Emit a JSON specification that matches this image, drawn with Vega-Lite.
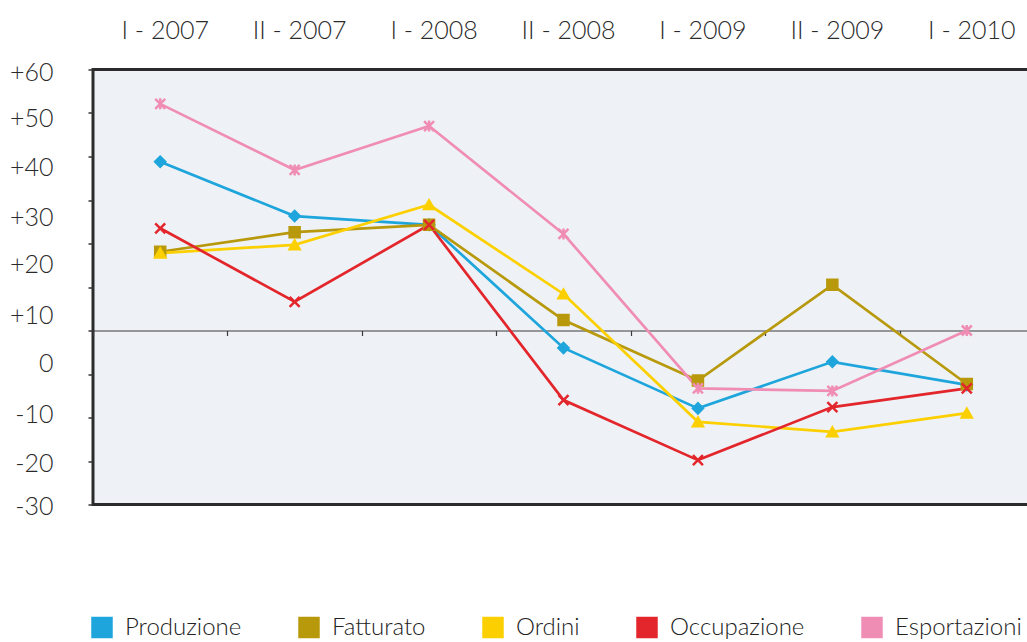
{
  "$schema": "https://vega.github.io/schema/vega-lite/v6.json",
  "width": 941,
  "height": 435,
  "autosize": {"type": "none"},
  "padding": {"left": 93, "top": 69.5, "right": -7, "bottom": 137.5},
  "background": "white",
  "config": {
    "view": {"fill": "#eef2f6", "stroke": "#2b2b2b", "strokeWidth": 3},
    "font": "Lato",
    "axis": {"labelFont": "Lato", "labelColor": "#2a2a2a", "grid": false, "title": null}
  },
  "data": {
    "values": [
      {"p": "I - 2007", "s": "Produzione", "v": 38.8},
      {"p": "II - 2007", "s": "Produzione", "v": 26.3},
      {"p": "I - 2008", "s": "Produzione", "v": 24.3},
      {"p": "II - 2008", "s": "Produzione", "v": -4.0},
      {"p": "I - 2009", "s": "Produzione", "v": -17.9},
      {"p": "II - 2009", "s": "Produzione", "v": -7.2},
      {"p": "I - 2010", "s": "Produzione", "v": -12.5},
      {"p": "I - 2007", "s": "Fatturato", "v": 18.1},
      {"p": "II - 2007", "s": "Fatturato", "v": 22.6},
      {"p": "I - 2008", "s": "Fatturato", "v": 24.3},
      {"p": "II - 2008", "s": "Fatturato", "v": 2.4},
      {"p": "I - 2009", "s": "Fatturato", "v": -11.5},
      {"p": "II - 2009", "s": "Fatturato", "v": 10.5},
      {"p": "I - 2010", "s": "Fatturato", "v": -12.3},
      {"p": "I - 2007", "s": "Ordini", "v": 17.8},
      {"p": "II - 2007", "s": "Ordini", "v": 19.7},
      {"p": "I - 2008", "s": "Ordini", "v": 28.9},
      {"p": "II - 2008", "s": "Ordini", "v": 8.4},
      {"p": "I - 2009", "s": "Ordini", "v": -21.0},
      {"p": "II - 2009", "s": "Ordini", "v": -23.3},
      {"p": "I - 2010", "s": "Ordini", "v": -19.0},
      {"p": "I - 2007", "s": "Occupazione", "v": 23.5},
      {"p": "II - 2007", "s": "Occupazione", "v": 6.6},
      {"p": "I - 2008", "s": "Occupazione", "v": 24.3},
      {"p": "II - 2008", "s": "Occupazione", "v": -16.0},
      {"p": "I - 2009", "s": "Occupazione", "v": -29.8},
      {"p": "II - 2009", "s": "Occupazione", "v": -17.6},
      {"p": "I - 2010", "s": "Occupazione", "v": -13.3},
      {"p": "I - 2007", "s": "Esportazioni", "v": 52.1},
      {"p": "II - 2007", "s": "Esportazioni", "v": 36.9},
      {"p": "I - 2008", "s": "Esportazioni", "v": 47.0},
      {"p": "II - 2008", "s": "Esportazioni", "v": 22.2},
      {"p": "I - 2009", "s": "Esportazioni", "v": -13.3},
      {"p": "II - 2009", "s": "Esportazioni", "v": -13.9},
      {"p": "I - 2010", "s": "Esportazioni", "v": 0.0}
    ]
  },
  "layer": [
    {
      "mark": {"type": "line", "strokeWidth": 2.7},
      "encoding": {
        "x": {
          "field": "p", "type": "nominal",
          "scale": {"type": "band", "domain": ["I - 2007", "II - 2007", "I - 2008", "II - 2008", "I - 2009", "II - 2009", "I - 2010"], "paddingInner": 0, "paddingOuter": 0},
          "axis": {"orient": "top", "title": null, "ticks": false, "tickSize": 0, "domain": false, "labelFontSize": 25, "labelFontWeight": 300, "labelPadding": 31.5, "labelBaseline": "alphabetic", "labelOffset": 5, "labelAngle": 0, "labelColor": "#2a2a2a"}
        },
        "y": {
          "field": "v", "type": "quantitative",
          "scale": {"domain": [-40, 60], "nice": false, "zero": false},
          "axis": {"orient": "left", "title": null, "values": [-40, -30, -20, -10, 0, 10, 20, 30, 40, 50, 60], "labels": false, "domain": false, "ticks": true, "tickSize": 5, "tickWidth": 1.5, "tickColor": "#333333", "grid": false}
        },
        "stroke": {
          "field": "s", "type": "nominal",
          "scale": {"range": ["#f08db5", "#b8990c", "#e3262b", "#fcd000", "#1ea5dc"]},
          "legend": null
        }
      }
    },
    {
      "mark": {"type": "point", "filled": true, "size": 100, "strokeWidth": 2.5, "opacity": 1},
      "encoding": {
        "x": {
          "field": "p", "type": "nominal",
          "scale": {"type": "band", "domain": ["I - 2007", "II - 2007", "I - 2008", "II - 2008", "I - 2009", "II - 2009", "I - 2010"], "paddingInner": 0, "paddingOuter": 0},
          "axis": {"orient": "bottom", "offset": -174, "title": null, "labels": false, "domain": true, "domainColor": "#3a3a3a", "domainWidth": 1.2, "ticks": true, "tickBand": "extent", "tickSize": 5, "tickColor": "#3a3a3a", "tickWidth": 1.2}
        },
        "y": {
          "field": "v", "type": "quantitative",
          "scale": {"domain": [-40, 60], "nice": false, "zero": false},
          "axis": {"orient": "left", "title": null, "values": [59.7, 49.1, 37.8, 26.3, 15.5, 3.8, -7.2, -18.9, -30.2, -40], "ticks": false, "tickSize": 0, "domain": false, "labelFontSize": 25, "labelFontWeight": 300, "labelPadding": 40, "labelOffset": 1.5, "labelBaseline": "middle", "labelFlush": false, "labelOverlap": false, "labelBound": false, "labelColor": "#2a2a2a", "labelExpr": "(round((datum.value + 40) / 11.1) * 10 - 30 > 0 ? '+' : '') + (round((datum.value + 40) / 11.1) * 10 - 30)"}
        },
        "fill": {
          "field": "s", "type": "nominal",
          "scale": {"domain": ["Produzione", "Fatturato", "Ordini", "Occupazione", "Esportazioni"], "range": ["#1ea5dc", "#b8990c", "#fcd000", "#e3262b", "#f08db5"]},
          "legend": {"orient": "none", "legendX": -3, "legendY": 546, "direction": "horizontal", "title": null, "symbolType": "square", "symbolSize": 462, "symbolStrokeWidth": 0, "symbolOpacity": 1, "labelFont": "Lato", "labelFontSize": 24, "labelFontWeight": 300, "labelColor": "#222222", "labelOffset": 11, "columnPadding": 55, "padding": 0, "labelLimit": 400}
        },
        "stroke": {"field": "s", "type": "nominal", "legend": null},
        "shape": {
          "field": "s", "type": "nominal",
          "scale": {"range": ["M-1,-1L1,1M-1,1L1,-1M0,-1.1L0,1.1", "square", "M-1,-1L1,1M-1,1L1,-1", "triangle-up", "diamond"]},
          "legend": null
        }
      }
    }
  ],
  "resolve": {"axis": {"x": "independent", "y": "independent"}}
}
